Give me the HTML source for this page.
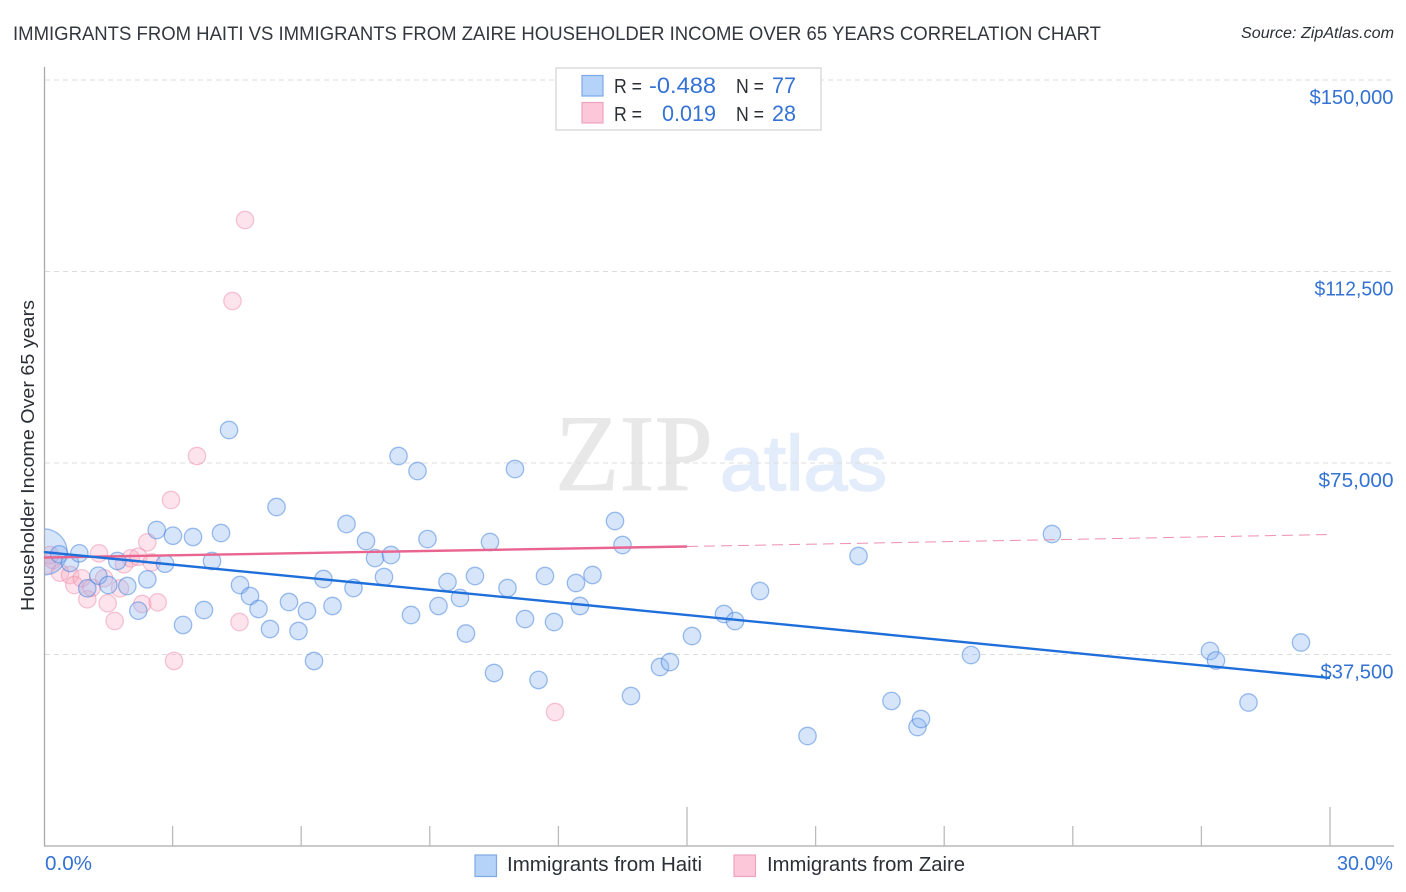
<!DOCTYPE html>
<html lang="en">
<head>
<meta charset="utf-8">
<title>Immigrants from Haiti vs Immigrants from Zaire Householder Income Correlation Chart</title>
<style>
html,body{margin:0;padding:0;background:#fff;}
svg{display:block;font-family:"Liberation Sans",sans-serif;}
</style>
</head>
<body>
<svg id="chart" xmlns="http://www.w3.org/2000/svg" width="1406" height="892" viewBox="0 0 1406 892">
  <defs>
    <clipPath id="plot-clip"><rect x="45" y="60" width="1348" height="786"/></clipPath>
  </defs>
  <rect width="1406" height="892" fill="#fff"/>
  <text x="13" y="40" font-size="19.5" fill="#33373e" textLength="1088" lengthAdjust="spacingAndGlyphs">IMMIGRANTS FROM HAITI VS IMMIGRANTS FROM ZAIRE HOUSEHOLDER INCOME OVER 65 YEARS CORRELATION CHART</text>
  <text x="1241" y="38" font-size="15.5" font-style="italic" fill="#2b2f36" textLength="153" lengthAdjust="spacingAndGlyphs">Source: ZipAtlas.com</text>

  <g>
    <text x="555" y="490" font-family="'Liberation Serif',serif" font-size="109" fill="#e8e8e8" stroke="#e8e8e8" stroke-width="0.8" textLength="158" lengthAdjust="spacingAndGlyphs">ZIP</text>
    <text x="720" y="490" font-size="78" fill="#e3ecfa" stroke="#e3ecfa" stroke-width="1.6" textLength="167" lengthAdjust="spacingAndGlyphs">atlas</text>
  </g>

  <g id="grid"></g>
  <g id="axes"></g>
  <text transform="translate(34 611) rotate(-90)" font-size="18.5" fill="#2b2f36" textLength="311" lengthAdjust="spacingAndGlyphs">Householder Income Over 65 years</text>

  <g id="zaire-points" clip-path="url(#plot-clip)"></g>
  <g id="haiti-points" clip-path="url(#plot-clip)"></g>
  <g id="trends"></g>

  <g>
    <rect x="556" y="68" width="265" height="62" fill="#fff" stroke="#dcdcdc" stroke-width="1.5"/>
    <rect x="582" y="75.5" width="21" height="20.5" fill="#b5d2f8" stroke="#7ea9e4" stroke-width="1.2"/>
    <rect x="582" y="102.5" width="21" height="20.5" fill="#fcc8d9" stroke="#f0a3bc" stroke-width="1.2"/>
    <g font-size="20" fill="#2b2f36">
      <text x="614" y="93" textLength="28" lengthAdjust="spacingAndGlyphs">R =</text>
      <text x="736" y="93" textLength="28" lengthAdjust="spacingAndGlyphs">N =</text>
      <text x="614" y="121" textLength="28" lengthAdjust="spacingAndGlyphs">R =</text>
      <text x="736" y="121" textLength="28" lengthAdjust="spacingAndGlyphs">N =</text>
    </g>
    <g font-size="22" fill="#3472d3">
      <text x="649" y="93" textLength="67" lengthAdjust="spacingAndGlyphs">-0.488</text>
      <text x="772" y="93" textLength="24" lengthAdjust="spacingAndGlyphs">77</text>
      <text x="662" y="121" textLength="54" lengthAdjust="spacingAndGlyphs">0.019</text>
      <text x="772" y="121" textLength="24" lengthAdjust="spacingAndGlyphs">28</text>
    </g>
  </g>

  <g>
    <rect x="475" y="855" width="21.5" height="21.5" fill="#b5d2f8" stroke="#7ea9e4" stroke-width="1.2"/>
    <text x="507" y="871" font-size="20" fill="#2b2f36" textLength="195" lengthAdjust="spacingAndGlyphs">Immigrants from Haiti</text>
    <rect x="734" y="855" width="21.5" height="21.5" fill="#fcc8d9" stroke="#f0a3bc" stroke-width="1.2"/>
    <text x="767" y="871" font-size="20" fill="#2b2f36" textLength="198" lengthAdjust="spacingAndGlyphs">Immigrants from Zaire</text>
  </g>
</svg>
<script>
const yTickValues = [150000, 112500, 75000, 37500];
const yTickLabels = ["$150,000", "$112,500", "$75,000", "$37,500"];
const xTickValues = [3, 6, 9, 12, 15, 18, 21, 24, 27, 30];
const xMajorTicks = [15, 30];
const xEndValues = [0, 30];
const xEndLabels = ["0.0%", "30.0%"];

const haitiX = [0.00,0.357,0.607,0.823,1.010,1.267,1.500,1.710,1.943,2.200,2.410,2.629,2.823,3.009,3.243,3.476,3.732,3.919,4.129,4.316,4.572,4.806,5.004,5.272,5.424,5.715,5.937,6.135,6.299,6.520,6.730,7.057,7.220,7.512,7.722,7.931,8.095,8.270,8.561,8.713,8.946,9.203,9.413,9.704,9.844,10.054,10.404,10.498,10.812,10.987,11.221,11.536,11.687,11.897,12.410,12.504,12.795,13.320,13.495,13.693,14.370,14.603,15.116,15.863,16.120,16.703,17.811,19.001,19.770,20.377,20.459,21.625,23.514,27.200,27.340,28.099,29.323];
const haitiY = [57570,57120,55420,57310,50460,52930,51110,55810,50910,46080,52220,61880,55280,60760,43280,60510,46210,55810,61290,81460,51110,48950,46410,42490,66380,47780,42100,46020,36230,52280,47000,63050,50520,59720,56390,52670,56980,76370,45230,73430,60110,47000,51700,48560,41610,52870,59530,33880,50520,73820,44450,32510,52870,43860,51500,47000,53070,63640,58940,29370,35050,36030,41120,45430,44060,49930,21540,56790,28400,23300,24870,37400,61090,38190,36330,28100,39850];
const haitiWeight = [6.5];

const zaireX = [0.063,0.140,0.210,0.373,0.607,0.707,0.879,1.010,1.113,1.283,1.400,1.486,1.649,1.773,1.866,2.023,2.200,2.293,2.410,2.512,2.652,2.963,3.033,3.569,4.397,4.561,4.689,11.921];
const zaireY = [55020,56980,56000,53520,53070,51110,52420,48310,50580,57310,52420,47530,44060,50460,55160,56340,56650,47390,59470,55550,47720,67750,36230,76370,106720,43860,122580,26240];

const haitiTrendX = [0, 30];
const haitiTrendY = [57570, 32900];
const zaireSolidX = [0, 15];
const zaireSolidY = [56490, 58650];
const zaireDashX = [15, 30];
const zaireDashY = [58650, 60996];

const NS = "http://www.w3.org/2000/svg";
function xScale(v) { return 44 + v / 30 * 1286; }
function yScale(v) { return 654.5 - (v - 37500) * 191.5 / 37500; }
function make(tag, attrs, parent) {
  const el = document.createElementNS(NS, tag);
  for (const k in attrs) el.setAttribute(k, attrs[k]);
  parent.appendChild(el);
  return el;
}
function labelWidth(text) {
  let w = 0;
  for (const ch of text) {
    if (ch === "$") w += 12;
    else if (ch === ",") w += 5;
    else if (ch === "1") w += 7;
    else if (ch === "7") w += 10;
    else if (ch === "3") w += 10;
    else w += 12;
  }
  return w;
}

const grid = document.getElementById("grid");
const axes = document.getElementById("axes");
const trends = document.getElementById("trends");

yTickValues.forEach(function (v, i) {
  const line = make("line", {x1: 45, x2: 1393, y1: yScale(v), y2: yScale(v), stroke: "#dcdcdc", "stroke-width": 1.1, "stroke-dasharray": "5 4"}, grid);
  
  
  const w = labelWidth(yTickLabels[i]);
  const label = make("text", {x: 1393.5 - w, y: yScale(v) + 24, "font-size": 20.5, fill: "#3472d3", textLength: w, lengthAdjust: "spacingAndGlyphs"}, axes);
  
  
  label.textContent = yTickLabels[i];
});

const yAxis = make("line", {x1: 44.5, x2: 44.5, y1: 67, y2: 846.5, stroke: "#aaaaaa", "stroke-width": 1.3}, axes);


const xAxis = make("line", {x1: 44, x2: 1394, y1: 846, y2: 846, stroke: "#aaaaaa", "stroke-width": 1.3}, axes);



xTickValues.forEach(function (v) {
  const top = xMajorTicks.indexOf(v) >= 0 ? 807 : 826;
  const tick = make("line", {x1: xScale(v), x2: xScale(v), y1: top, y2: 846, stroke: "#bbbbbb", "stroke-width": 1.3}, axes);
  
  
});

xEndValues.forEach(function (v, i) {
  const label = make("text", {x: i === 0 ? xScale(v) + 1 : 1337, y: 870, "font-size": 20.5, fill: "#3472d3", textLength: i === 0 ? 47 : 56, lengthAdjust: "spacingAndGlyphs"}, axes);
  
  
  label.textContent = xEndLabels[i];
});

const haitiGroup = document.getElementById("haiti-points");
haitiX.forEach(function (v, i) {
  const w = haitiWeight[i] || 2.45;
  const c = make("circle", {cx: xScale(v), cy: yScale(haitiY[i]), r: w * 3.55, fill: "#8db8f0", "fill-opacity": 0.36, stroke: "#3f7fdc", "stroke-opacity": 0.5, "stroke-width": 1.3}, haitiGroup);
  
  
});

const zaireGroup = document.getElementById("zaire-points");
zaireX.forEach(function (v, i) {
  const c = make("circle", {cx: xScale(v), cy: yScale(zaireY[i]), r: 8.7, fill: "#f9a9c2", "fill-opacity": 0.32, stroke: "#ec7fa3", "stroke-opacity": 0.42, "stroke-width": 1.3}, zaireGroup);
  
  
});

const dash = make("line", {x1: xScale(zaireDashX[0]), y1: yScale(zaireDashY[0]), x2: xScale(zaireDashX[1]), y2: yScale(zaireDashY[1]), stroke: "#ee8fae", "stroke-width": 1, "stroke-dasharray": "11 6"}, trends);


const zaireLine = make("line", {x1: xScale(zaireSolidX[0]), y1: yScale(zaireSolidY[0]), x2: xScale(zaireSolidX[1]), y2: yScale(zaireSolidY[1]), stroke: "#e9648f", "stroke-width": 2.4}, trends);


const haitiLine = make("line", {x1: xScale(haitiTrendX[0]), y1: yScale(haitiTrendY[0]), x2: xScale(haitiTrendX[1]), y2: yScale(haitiTrendY[1]), stroke: "#1f6fdb", "stroke-width": 2.4}, trends);


</script>
</body>
</html>
